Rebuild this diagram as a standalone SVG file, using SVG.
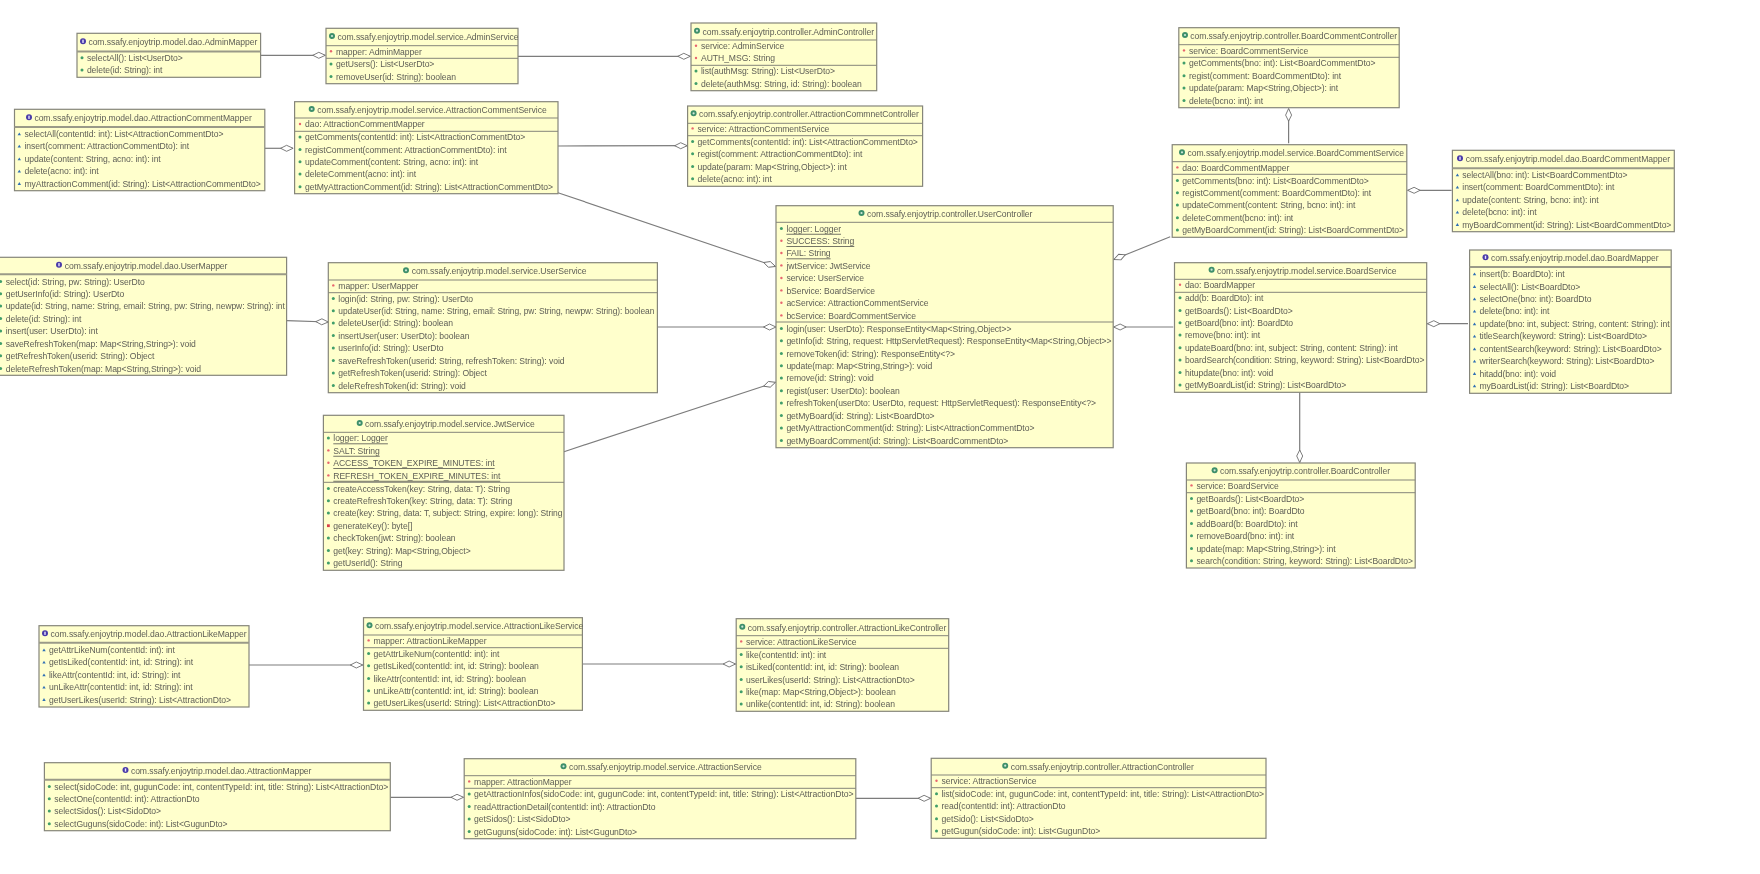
<svg xmlns="http://www.w3.org/2000/svg" width="1760" height="874" viewBox="0 0 1760 874">
<style>
text{font-family:"Liberation Sans",Arial,sans-serif;font-size:8.6px;letter-spacing:-.06px;fill:#5e5e56;dominant-baseline:central;transform:translateY(-.9px)}
.u{text-decoration:underline}
.b{fill:#ffffcc;stroke:#85857a;stroke-width:1.2}
.d{stroke:#85857a;stroke-width:1;fill:none}
.dd{stroke:#9a9a88;stroke-width:2;fill:none}
.c line{stroke:#7c7c7c;stroke-width:1.2;marker-end:url(#dia)}
</style>
<defs>
<filter id="soft" x="0" y="0" width="100%" height="100%" filterUnits="userSpaceOnUse"><feGaussianBlur stdDeviation=".28"/></filter>
<marker id="dia" viewBox="0 0 12.5 6" refX="12.5" refY="3" markerWidth="12.5" markerHeight="6" orient="auto" markerUnits="userSpaceOnUse" overflow="visible"><path d="M0 3L6 0L12.5 3L6 6Z" fill="#fff" stroke="#6e6e6e" stroke-width=".9"/></marker>
<circle id="p" r="1.5" fill="#3f9e6a"/>
<circle id="r" r="1.2" fill="#e8646e"/>
<rect id="s" x="-1.4" y="-1.4" width="2.8" height="2.8" fill="#d9404a"/>
<path id="t" d="M-1.7 1.3L0-1.6L1.7 1.3Z" fill="#2f6fb5"/>
<g id="ci"><circle r="3" fill="#3e8f6b"/><circle r="1.1" fill="#cfe8d8"/></g>
<g id="ii"><circle r="3" fill="#4a3aa8"/><rect x="-.7" y="-1.6" width="1.4" height="3.2" fill="#e8e4ff"/></g>
</defs>
<rect width="1760" height="874" fill="#fff"/>
<g id="diagram" filter="url(#soft)">
<g id="connectors" class="c">
<line x1="260.6" y1="55.3" x2="325.3" y2="55.3"/>
<line x1="518" y1="56.3" x2="690.3" y2="56.3"/>
<line x1="264.8" y1="148.3" x2="293.1" y2="148.3"/>
<line x1="558" y1="146" x2="687.2" y2="145.7"/>
<line x1="558" y1="192.7" x2="775.5" y2="266.5"/>
<line x1="286.6" y1="320.7" x2="328.3" y2="322"/>
<line x1="657.4" y1="327" x2="776" y2="327"/>
<line x1="564" y1="451.7" x2="775.5" y2="382.3"/>
<line x1="1170.2" y1="236.7" x2="1113.8" y2="259.5"/>
<line x1="1173.3" y1="327" x2="1113.6" y2="327"/>
<line x1="1288.6" y1="143.3" x2="1288.6" y2="108.6"/>
<line x1="1451.6" y1="190.3" x2="1407.6" y2="190.3"/>
<line x1="1468" y1="323.7" x2="1427.3" y2="323.7"/>
<line x1="1299.7" y1="392.3" x2="1299.7" y2="462.5"/>
<line x1="249" y1="665" x2="362.8" y2="665"/>
<line x1="582.4" y1="664" x2="735.6" y2="664"/>
<line x1="390.3" y1="797.3" x2="463.5" y2="797.3"/>
<line x1="855.8" y1="798.3" x2="930.6" y2="798.3"/>
</g>

<g id="AdminMapper">
<rect class="b" x="77" y="33.3" width="183.6" height="44"/><path class="dd" d="M77 51.5H260.6"/>
<use href="#ii" x="83" y="41.3"/><text x="88.4" y="43.3">com.ssafy.enjoytrip.model.dao.AdminMapper</text>
<use href="#p" x="82" y="57.7"/><text x="86.9" y="59">selectAll(): List&lt;UserDto&gt;</text>
<use href="#p" x="82" y="70"/><text x="86.9" y="71.3">delete(id: String): int</text>
</g>

<g id="AdminService">
<rect class="b" x="326" y="28.3" width="192" height="55.4"/><path class="d" d="M326 45.7H518M326 58.3H518"/>
<use href="#ci" x="332" y="36"/><text x="337.5" y="38">com.ssafy.enjoytrip.model.service.AdminService</text>
<use href="#r" x="331" y="51.2"/><text x="336" y="52.5">mapper: AdminMapper</text>
<use href="#p" x="331" y="64"/><text x="336" y="65.3">getUsers(): List&lt;UserDto&gt;</text>
<use href="#p" x="331" y="76.4"/><text x="336" y="77.7">removeUser(id: String): boolean</text>
</g>

<g id="AdminController">
<rect class="b" x="691" y="23" width="185.7" height="67.7"/><path class="d" d="M691 40H876.7M691 65.3H876.7"/>
<use href="#ci" x="697" y="30.7"/><text x="702.6" y="32.7">com.ssafy.enjoytrip.controller.AdminController</text>
<use href="#r" x="696" y="45.7"/><text x="701" y="47">service: AdminService</text>
<use href="#r" x="696" y="58"/><text x="701" y="59.3">AUTH_MSG: String</text>
<use href="#p" x="696" y="71"/><text x="701" y="72.3">list(authMsg: String): List&lt;UserDto&gt;</text>
<use href="#p" x="696" y="83.4"/><text x="701" y="84.7">delete(authMsg: String, id: String): boolean</text>
</g>

<g id="AttractionCommentMapper">
<rect class="b" x="14.5" y="109.3" width="250.3" height="81.4"/><path class="dd" d="M14.5 127H264.8"/>
<use href="#ii" x="29" y="117.3"/><text x="34.4" y="119.3">com.ssafy.enjoytrip.model.dao.AttractionCommentMapper</text>
<use href="#t" x="19.3" y="134"/><text x="24.5" y="135">selectAll(contentId: int): List&lt;AttractionCommentDto&gt;</text>
<use href="#t" x="19.3" y="146.3"/><text x="24.5" y="147.3">insert(comment: AttractionCommentDto): int</text>
<use href="#t" x="19.3" y="159"/><text x="24.5" y="160">update(content: String, acno: int): int</text>
<use href="#t" x="19.3" y="171.3"/><text x="24.5" y="172.3">delete(acno: int): int</text>
<use href="#t" x="19.3" y="183.7"/><text x="24.5" y="184.7">myAttractionComment(id: String): List&lt;AttractionCommentDto&gt;</text>
</g>

<g id="AttractionCommentService">
<rect class="b" x="294.6" y="101.7" width="263.4" height="92"/><path class="d" d="M294.6 118H558M294.6 131.3H558"/>
<use href="#ci" x="311.7" y="109"/><text x="317.2" y="111">com.ssafy.enjoytrip.model.service.AttractionCommentService</text>
<use href="#r" x="300" y="124"/><text x="305" y="125.3">dao: AttractionCommentMapper</text>
<use href="#p" x="300" y="137"/><text x="305" y="138.3">getComments(contentId: int): List&lt;AttractionCommentDto&gt;</text>
<use href="#p" x="300" y="149.4"/><text x="305" y="150.7">registComment(comment: AttractionCommentDto): int</text>
<use href="#p" x="300" y="161.7"/><text x="305" y="163">updateComment(content: String, acno: int): int</text>
<use href="#p" x="300" y="174"/><text x="305" y="175.3">deleteComment(acno: int): int</text>
<use href="#p" x="300" y="186.7"/><text x="305" y="188">getMyAttractionComment(id: String): List&lt;AttractionCommentDto&gt;</text>
</g>

<g id="AttractionCommnetController">
<rect class="b" x="687.6" y="106" width="235" height="80.3"/><path class="d" d="M687.6 123.3H922.6M687.6 135.7H922.6"/>
<use href="#ci" x="693.6" y="113.3"/><text x="699" y="115.3">com.ssafy.enjoytrip.controller.AttractionCommnetController</text>
<use href="#r" x="692.6" y="128.4"/><text x="697.6" y="129.7">service: AttractionCommentService</text>
<use href="#p" x="692.6" y="141.4"/><text x="697.6" y="142.7">getComments(contentId: int): List&lt;AttractionCommentDto&gt;</text>
<use href="#p" x="692.6" y="153.7"/><text x="697.6" y="155">regist(comment: AttractionCommentDto): int</text>
<use href="#p" x="692.6" y="166.4"/><text x="697.6" y="167.7">update(param: Map&lt;String,Object&gt;): int</text>
<use href="#p" x="692.6" y="178.7"/><text x="697.6" y="180">delete(acno: int): int</text>
</g>

<g id="UserMapper">
<rect class="b" x="-1" y="257.3" width="287.6" height="118"/><path class="dd" d="M-1 274.3H286.6"/>
<use href="#ii" x="59" y="264.7"/><text x="64.7" y="266.7">com.ssafy.enjoytrip.model.dao.UserMapper</text>
<use href="#p" x=".6" y="281.4"/><text x="5.7" y="282.7">select(id: String, pw: String): UserDto</text>
<use href="#p" x=".6" y="293.7"/><text x="5.7" y="295">getUserInfo(id: String): UserDto</text>
<use href="#p" x=".6" y="306"/><text x="5.7" y="307.3" textLength="279" lengthAdjust="spacingAndGlyphs">update(id: String, name: String, email: String, pw: String, newpw: String): int</text>
<use href="#p" x=".6" y="318.4"/><text x="5.7" y="319.7">delete(id: String): int</text>
<use href="#p" x=".6" y="331"/><text x="5.7" y="332.3">insert(user: UserDto): int</text>
<use href="#p" x=".6" y="343.4"/><text x="5.7" y="344.7">saveRefreshToken(map: Map&lt;String,String&gt;): void</text>
<use href="#p" x=".6" y="355.7"/><text x="5.7" y="357">getRefreshToken(userid: String): Object</text>
<use href="#p" x=".6" y="368.4"/><text x="5.7" y="369.7">deleteRefreshToken(map: Map&lt;String,String&gt;): void</text>
</g>

<g id="UserService">
<rect class="b" x="328.3" y="262.7" width="329.1" height="130"/><path class="d" d="M328.3 280H657.4M328.3 292.7H657.4"/>
<use href="#ci" x="406" y="270.3"/><text x="411.7" y="272.3">com.ssafy.enjoytrip.model.service.UserService</text>
<use href="#r" x="333.3" y="285.4"/><text x="338.3" y="286.7">mapper: UserMapper</text>
<use href="#p" x="333.3" y="298.4"/><text x="338.3" y="299.7">login(id: String, pw: String): UserDto</text>
<use href="#p" x="333.3" y="310.7"/><text x="338.3" y="312" textLength="316" lengthAdjust="spacingAndGlyphs">updateUser(id: String, name: String, email: String, pw: String, newpw: String): boolean</text>
<use href="#p" x="333.3" y="323"/><text x="338.3" y="324.3">deleteUser(id: String): boolean</text>
<use href="#p" x="333.3" y="335.4"/><text x="338.3" y="336.7">insertUser(user: UserDto): boolean</text>
<use href="#p" x="333.3" y="348"/><text x="338.3" y="349.3">userInfo(id: String): UserDto</text>
<use href="#p" x="333.3" y="360.4"/><text x="338.3" y="361.7">saveRefreshToken(userid: String, refreshToken: String): void</text>
<use href="#p" x="333.3" y="373"/><text x="338.3" y="374.3">getRefreshToken(userid: String): Object</text>
<use href="#p" x="333.3" y="385.4"/><text x="338.3" y="386.7">deleRefreshToken(id: String): void</text>
</g>

<g id="JwtService">
<rect class="b" x="323.4" y="415.3" width="240.6" height="155"/><path class="d" d="M323.4 432.3H564M323.4 482.3H564"/>
<use href="#ci" x="359.7" y="423"/><text x="365" y="425">com.ssafy.enjoytrip.model.service.JwtService</text>
<use href="#p" x="328.4" y="438"/><text class="u" x="333.3" y="439.3">logger: Logger</text>
<use href="#r" x="328.4" y="450.4"/><text class="u" x="333.3" y="451.7">SALT: String</text>
<use href="#r" x="328.4" y="462.7"/><text class="u" x="333.3" y="464">ACCESS_TOKEN_EXPIRE_MINUTES: int</text>
<use href="#r" x="328.4" y="475.4"/><text class="u" x="333.3" y="476.7">REFRESH_TOKEN_EXPIRE_MINUTES: int</text>
<use href="#p" x="328.4" y="488.4"/><text x="333.3" y="489.7">createAccessToken(key: String, data: T): String</text>
<use href="#p" x="328.4" y="500.7"/><text x="333.3" y="502">createRefreshToken(key: String, data: T): String</text>
<use href="#p" x="328.4" y="513"/><text x="333.3" y="514.3" textLength="229" lengthAdjust="spacingAndGlyphs">create(key: String, data: T, subject: String, expire: long): String</text>
<use href="#s" x="328.4" y="525.7"/><text x="333.3" y="527">generateKey(): byte[]</text>
<use href="#p" x="328.4" y="538"/><text x="333.3" y="539.3">checkToken(jwt: String): boolean</text>
<use href="#p" x="328.4" y="550.4"/><text x="333.3" y="551.7">get(key: String): Map&lt;String,Object&gt;</text>
<use href="#p" x="328.4" y="563"/><text x="333.3" y="564.3">getUserId(): String</text>
</g>

<g id="UserController">
<rect class="b" x="776" y="205.7" width="337.2" height="242"/><path class="d" d="M776 222.3H1113.2M776 322H1113.2"/>
<use href="#ci" x="861.5" y="213"/><text x="867.1" y="215">com.ssafy.enjoytrip.controller.UserController</text>
<use href="#p" x="781.4" y="228.4"/><text class="u" x="786.4" y="229.7">logger: Logger</text>
<use href="#r" x="781.4" y="240.7"/><text class="u" x="786.4" y="242">SUCCESS: String</text>
<use href="#r" x="781.4" y="253"/><text class="u" x="786.4" y="254.3">FAIL: String</text>
<use href="#r" x="781.4" y="265.4"/><text x="786.4" y="266.7">jwtService: JwtService</text>
<use href="#r" x="781.4" y="278"/><text x="786.4" y="279.3">service: UserService</text>
<use href="#r" x="781.4" y="290.4"/><text x="786.4" y="291.7">bService: BoardService</text>
<use href="#r" x="781.4" y="302.7"/><text x="786.4" y="304">acService: AttractionCommentService</text>
<use href="#r" x="781.4" y="315.4"/><text x="786.4" y="316.7">bcService: BoardCommentService</text>
<use href="#p" x="781.4" y="328.4"/><text x="786.4" y="329.7">login(user: UserDto): ResponseEntity&lt;Map&lt;String,Object&gt;&gt;</text>
<use href="#p" x="781.4" y="340.7"/><text x="786.4" y="342" textLength="325" lengthAdjust="spacingAndGlyphs">getInfo(id: String, request: HttpServletRequest): ResponseEntity&lt;Map&lt;String,Object&gt;&gt;</text>
<use href="#p" x="781.4" y="353.4"/><text x="786.4" y="354.7">removeToken(id: String): ResponseEntity&lt;?&gt;</text>
<use href="#p" x="781.4" y="365.7"/><text x="786.4" y="367">update(map: Map&lt;String,String&gt;): void</text>
<use href="#p" x="781.4" y="378"/><text x="786.4" y="379.3">remove(id: String): void</text>
<use href="#p" x="781.4" y="390.7"/><text x="786.4" y="392">regist(user: UserDto): boolean</text>
<use href="#p" x="781.4" y="403"/><text x="786.4" y="404.3">refreshToken(userDto: UserDto, request: HttpServletRequest): ResponseEntity&lt;?&gt;</text>
<use href="#p" x="781.4" y="415.4"/><text x="786.4" y="416.7">getMyBoard(id: String): List&lt;BoardDto&gt;</text>
<use href="#p" x="781.4" y="428"/><text x="786.4" y="429.3">getMyAttractionComment(id: String): List&lt;AttractionCommentDto&gt;</text>
<use href="#p" x="781.4" y="440.4"/><text x="786.4" y="441.7">getMyBoardComment(id: String): List&lt;BoardCommentDto&gt;</text>
</g>

<g id="BoardCommentController">
<rect class="b" x="1178.8" y="27.7" width="220.4" height="80"/><path class="d" d="M1178.8 44.7H1399.2M1178.8 57.3H1399.2"/>
<use href="#ci" x="1185" y="35"/><text x="1190.2" y="37">com.ssafy.enjoytrip.controller.BoardCommentController</text>
<use href="#r" x="1184" y="50.4"/><text x="1189" y="51.7">service: BoardCommentService</text>
<use href="#p" x="1184" y="63"/><text x="1189" y="64.3">getComments(bno: int): List&lt;BoardCommentDto&gt;</text>
<use href="#p" x="1184" y="75.7"/><text x="1189" y="77">regist(comment: BoardCommentDto): int</text>
<use href="#p" x="1184" y="88"/><text x="1189" y="89.3">update(param: Map&lt;String,Object&gt;): int</text>
<use href="#p" x="1184" y="100.4"/><text x="1189" y="101.7">delete(bcno: int): int</text>
</g>

<g id="BoardCommentService">
<rect class="b" x="1172.2" y="144.7" width="234.6" height="92.6"/><path class="d" d="M1172.2 161.7H1406.8M1172.2 174.3H1406.8"/>
<use href="#ci" x="1182" y="152.3"/><text x="1187.5" y="154.3">com.ssafy.enjoytrip.model.service.BoardCommentService</text>
<use href="#r" x="1177.4" y="167.4"/><text x="1182.2" y="168.7">dao: BoardCommentMapper</text>
<use href="#p" x="1177.4" y="180.4"/><text x="1182.2" y="181.7">getComments(bno: int): List&lt;BoardCommentDto&gt;</text>
<use href="#p" x="1177.4" y="192.7"/><text x="1182.2" y="194">registComment(comment: BoardCommentDto): int</text>
<use href="#p" x="1177.4" y="205"/><text x="1182.2" y="206.3">updateComment(content: String, bcno: int): int</text>
<use href="#p" x="1177.4" y="217.7"/><text x="1182.2" y="219">deleteComment(bcno: int): int</text>
<use href="#p" x="1177.4" y="230"/><text x="1182.2" y="231.3">getMyBoardComment(id: String): List&lt;BoardCommentDto&gt;</text>
</g>

<g id="BoardCommentMapper">
<rect class="b" x="1452.4" y="150.3" width="221.9" height="81.4"/><path class="dd" d="M1452.4 168.3H1674.3"/>
<use href="#ii" x="1460" y="158.3"/><text x="1465.7" y="160.3">com.ssafy.enjoytrip.model.dao.BoardCommentMapper</text>
<use href="#t" x="1457.4" y="175"/><text x="1462.3" y="176">selectAll(bno: int): List&lt;BoardCommentDto&gt;</text>
<use href="#t" x="1457.4" y="187.3"/><text x="1462.3" y="188.3">insert(comment: BoardCommentDto): int</text>
<use href="#t" x="1457.4" y="200"/><text x="1462.3" y="201">update(content: String, bcno: int): int</text>
<use href="#t" x="1457.4" y="212.3"/><text x="1462.3" y="213.3">delete(bcno: int): int</text>
<use href="#t" x="1457.4" y="224.7"/><text x="1462.3" y="225.7" textLength="209" lengthAdjust="spacingAndGlyphs">myBoardComment(id: String): List&lt;BoardCommentDto&gt;</text>
</g>

<g id="BoardService">
<rect class="b" x="1174.5" y="262.7" width="252.2" height="129.6"/><path class="d" d="M1174.5 279.3H1426.7M1174.5 292.3H1426.7"/>
<use href="#ci" x="1211.6" y="269.7"/><text x="1217" y="271.7">com.ssafy.enjoytrip.model.service.BoardService</text>
<use href="#r" x="1180" y="284.7"/><text x="1184.9" y="286">dao: BoardMapper</text>
<use href="#p" x="1180" y="297.7"/><text x="1184.9" y="299">add(b: BoardDto): int</text>
<use href="#p" x="1180" y="310.4"/><text x="1184.9" y="311.7">getBoards(): List&lt;BoardDto&gt;</text>
<use href="#p" x="1180" y="322.7"/><text x="1184.9" y="324">getBoard(bno: int): BoardDto</text>
<use href="#p" x="1180" y="335"/><text x="1184.9" y="336.3">remove(bno: int): int</text>
<use href="#p" x="1180" y="347.7"/><text x="1184.9" y="349">updateBoard(bno: int, subject: String, content: String): int</text>
<use href="#p" x="1180" y="360"/><text x="1184.9" y="361.3" textLength="239.5" lengthAdjust="spacingAndGlyphs">boardSearch(condition: String, keyword: String): List&lt;BoardDto&gt;</text>
<use href="#p" x="1180" y="372.4"/><text x="1184.9" y="373.7">hitupdate(bno: int): void</text>
<use href="#p" x="1180" y="385"/><text x="1184.9" y="386.3">getMyBoardList(id: String): List&lt;BoardDto&gt;</text>
</g>

<g id="BoardMapper">
<rect class="b" x="1469.6" y="250" width="201.6" height="143.3"/><path class="dd" d="M1469.6 267H1671.2"/>
<use href="#ii" x="1485.5" y="257.3"/><text x="1491" y="259.3">com.ssafy.enjoytrip.model.dao.BoardMapper</text>
<use href="#t" x="1474.5" y="274"/><text x="1479.5" y="275">insert(b: BoardDto): int</text>
<use href="#t" x="1474.5" y="286.7"/><text x="1479.5" y="287.7">selectAll(): List&lt;BoardDto&gt;</text>
<use href="#t" x="1474.5" y="299"/><text x="1479.5" y="300">selectOne(bno: int): BoardDto</text>
<use href="#t" x="1474.5" y="311.3"/><text x="1479.5" y="312.3">delete(bno: int): int</text>
<use href="#t" x="1474.5" y="324"/><text x="1479.5" y="325" textLength="190" lengthAdjust="spacingAndGlyphs">update(bno: int, subject: String, content: String): int</text>
<use href="#t" x="1474.5" y="336.3"/><text x="1479.5" y="337.3">titleSearch(keyword: String): List&lt;BoardDto&gt;</text>
<use href="#t" x="1474.5" y="349"/><text x="1479.5" y="350">contentSearch(keyword: String): List&lt;BoardDto&gt;</text>
<use href="#t" x="1474.5" y="361.3"/><text x="1479.5" y="362.3">writerSearch(keyword: String): List&lt;BoardDto&gt;</text>
<use href="#t" x="1474.5" y="373.7"/><text x="1479.5" y="374.7">hitadd(bno: int): void</text>
<use href="#t" x="1474.5" y="386"/><text x="1479.5" y="387">myBoardList(id: String): List&lt;BoardDto&gt;</text>
</g>

<g id="BoardController">
<rect class="b" x="1186.4" y="463" width="228.8" height="105"/><path class="d" d="M1186.4 480H1415.2M1186.4 492.7H1415.2"/>
<use href="#ci" x="1214.6" y="470.3"/><text x="1220" y="472.3">com.ssafy.enjoytrip.controller.BoardController</text>
<use href="#r" x="1191.5" y="485.4"/><text x="1196.4" y="486.7">service: BoardService</text>
<use href="#p" x="1191.5" y="498.4"/><text x="1196.4" y="499.7">getBoards(): List&lt;BoardDto&gt;</text>
<use href="#p" x="1191.5" y="511"/><text x="1196.4" y="512.3">getBoard(bno: int): BoardDto</text>
<use href="#p" x="1191.5" y="523.4"/><text x="1196.4" y="524.7">addBoard(b: BoardDto): int</text>
<use href="#p" x="1191.5" y="535.7"/><text x="1196.4" y="537">removeBoard(bno: int): int</text>
<use href="#p" x="1191.5" y="548.4"/><text x="1196.4" y="549.7">update(map: Map&lt;String,String&gt;): int</text>
<use href="#p" x="1191.5" y="560.7"/><text x="1196.4" y="562" textLength="216.5" lengthAdjust="spacingAndGlyphs">search(condition: String, keyword: String): List&lt;BoardDto&gt;</text>
</g>

<g id="AttractionLikeMapper">
<rect class="b" x="39" y="625.7" width="210" height="81.3"/><path class="dd" d="M39 642.7H249"/>
<use href="#ii" x="45" y="633.3"/><text x="50.5" y="635.3">com.ssafy.enjoytrip.model.dao.AttractionLikeMapper</text>
<use href="#t" x="44" y="650"/><text x="49" y="651">getAttrLikeNum(contentId: int): int</text>
<use href="#t" x="44" y="662.3"/><text x="49" y="663.3">getIsLiked(contentId: int, id: String): int</text>
<use href="#t" x="44" y="675"/><text x="49" y="676">likeAttr(contentId: int, id: String): int</text>
<use href="#t" x="44" y="687.3"/><text x="49" y="688.3">unLikeAttr(contentId: int, id: String): int</text>
<use href="#t" x="44" y="699.7"/><text x="49" y="700.7">getUserLikes(userId: String): List&lt;AttractionDto&gt;</text>
</g>

<g id="AttractionLikeService">
<rect class="b" x="363.5" y="617.7" width="218.9" height="92.6"/><path class="d" d="M363.5 635H582.4M363.5 647.7H582.4"/>
<use href="#ci" x="369.5" y="625.3"/><text x="375" y="627.3">com.ssafy.enjoytrip.model.service.AttractionLikeService</text>
<use href="#r" x="368.6" y="640.4"/><text x="373.5" y="641.7">mapper: AttractionLikeMapper</text>
<use href="#p" x="368.6" y="653.4"/><text x="373.5" y="654.7">getAttrLikeNum(contentId: int): int</text>
<use href="#p" x="368.6" y="665.7"/><text x="373.5" y="667">getIsLiked(contentId: int, id: String): boolean</text>
<use href="#p" x="368.6" y="678.4"/><text x="373.5" y="679.7">likeAttr(contentId: int, id: String): boolean</text>
<use href="#p" x="368.6" y="690.7"/><text x="373.5" y="692">unLikeAttr(contentId: int, id: String): boolean</text>
<use href="#p" x="368.6" y="703"/><text x="373.5" y="704.3">getUserLikes(userId: String): List&lt;AttractionDto&gt;</text>
</g>

<g id="AttractionLikeController">
<rect class="b" x="736.2" y="618.7" width="212.5" height="92.6"/><path class="d" d="M736.2 635.7H948.7M736.2 648.3H948.7"/>
<use href="#ci" x="742.3" y="626.7"/><text x="747.8" y="628.7">com.ssafy.enjoytrip.controller.AttractionLikeController</text>
<use href="#r" x="741.2" y="641.4"/><text x="746" y="642.7">service: AttractionLikeService</text>
<use href="#p" x="741.2" y="654.4"/><text x="746" y="655.7">like(contentId: int): int</text>
<use href="#p" x="741.2" y="666.7"/><text x="746" y="668">isLiked(contentId: int, id: String): boolean</text>
<use href="#p" x="741.2" y="679.4"/><text x="746" y="680.7">userLikes(userId: String): List&lt;AttractionDto&gt;</text>
<use href="#p" x="741.2" y="691.7"/><text x="746" y="693">like(map: Map&lt;String,Object&gt;): boolean</text>
<use href="#p" x="741.2" y="704"/><text x="746" y="705.3">unlike(contentId: int, id: String): boolean</text>
</g>

<g id="AttractionMapper">
<rect class="b" x="44.4" y="762.7" width="345.9" height="68"/><path class="dd" d="M44.4 779.7H390.3"/>
<use href="#ii" x="125.5" y="770"/><text x="130.9" y="772">com.ssafy.enjoytrip.model.dao.AttractionMapper</text>
<use href="#p" x="49.3" y="786.4"/><text x="54.3" y="787.7" textLength="334" lengthAdjust="spacingAndGlyphs">select(sidoCode: int, gugunCode: int, contentTypeId: int, title: String): List&lt;AttractionDto&gt;</text>
<use href="#p" x="49.3" y="798.7"/><text x="54.3" y="800">selectOne(contentId: int): AttractionDto</text>
<use href="#p" x="49.3" y="811"/><text x="54.3" y="812.3">selectSidos(): List&lt;SidoDto&gt;</text>
<use href="#p" x="49.3" y="823.7"/><text x="54.3" y="825">selectGuguns(sidoCode: int): List&lt;GugunDto&gt;</text>
</g>

<g id="AttractionService">
<rect class="b" x="464.2" y="758.7" width="391.6" height="80"/><path class="d" d="M464.2 775.7H855.8M464.2 788.3H855.8"/>
<use href="#ci" x="563.5" y="766.3"/><text x="569" y="768.3">com.ssafy.enjoytrip.model.service.AttractionService</text>
<use href="#r" x="469.2" y="781.4"/><text x="474.1" y="782.7">mapper: AttractionMapper</text>
<use href="#p" x="469.2" y="794"/><text x="474.1" y="795.3" textLength="379.5" lengthAdjust="spacingAndGlyphs">getAttractionInfos(sidoCode: int, gugunCode: int, contentTypeId: int, title: String): List&lt;AttractionDto&gt;</text>
<use href="#p" x="469.2" y="806.4"/><text x="474.1" y="807.7">readAttractionDetail(contentId: int): AttractionDto</text>
<use href="#p" x="469.2" y="819"/><text x="474.1" y="820.3">getSidos(): List&lt;SidoDto&gt;</text>
<use href="#p" x="469.2" y="831.4"/><text x="474.1" y="832.7">getGuguns(sidoCode: int): List&lt;GugunDto&gt;</text>
</g>

<g id="AttractionController">
<rect class="b" x="931.2" y="758.3" width="334.8" height="80"/><path class="d" d="M931.2 775H1266M931.2 787.7H1266"/>
<use href="#ci" x="1005.2" y="765.7"/><text x="1010.7" y="767.7">com.ssafy.enjoytrip.controller.AttractionController</text>
<use href="#r" x="936.5" y="780.7"/><text x="941.5" y="782">service: AttractionService</text>
<use href="#p" x="936.5" y="793.7"/><text x="941.5" y="795" textLength="322.5" lengthAdjust="spacingAndGlyphs">list(sidoCode: int, gugunCode: int, contentTypeId: int, title: String): List&lt;AttractionDto&gt;</text>
<use href="#p" x="936.5" y="806"/><text x="941.5" y="807.3">read(contentId: int): AttractionDto</text>
<use href="#p" x="936.5" y="818.7"/><text x="941.5" y="820">getSido(): List&lt;SidoDto&gt;</text>
<use href="#p" x="936.5" y="831"/><text x="941.5" y="832.3">getGugun(sidoCode: int): List&lt;GugunDto&gt;</text>
</g>
</g>
</svg>
